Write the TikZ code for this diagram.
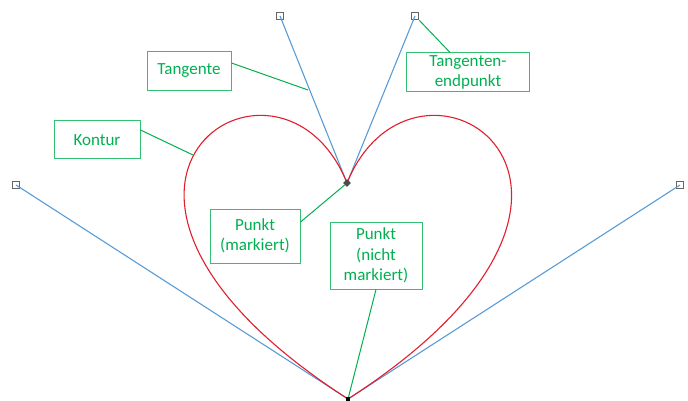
\documentclass[tikz,border=0pt]{standalone}
\usepackage{fontspec}
\setmainfont{Carlito}
\usetikzlibrary{calc}
\usetikzlibrary{shapes.geometric}

\definecolor{labelgreen}{RGB}{0,176,80}
\definecolor{tanblue}{RGB}{91,155,213}
\definecolor{curvered}{RGB}{225,30,45}

\tikzset{
    label box/.style={draw=labelgreen!80, line width=1pt, text=labelgreen, align=center,
        font=\fontsize{17}{20.5}\selectfont, inner sep=0pt},
    pointer/.style={labelgreen, line width=1pt},
    tangent/.style={tanblue, line width=1.1pt},
    handle/.style={draw=black!60, fill=white, line width=1pt, minimum size=7.5pt, inner sep=0pt}
}

\begin{document}
\begin{tikzpicture}[x=1pt,y=-1pt]
            \useasboundingbox (0,0) rectangle (688,401);
            % Punkte und Tangentenendpunkte
            \coordinate (P) at (347,183);
            \coordinate (Q) at (348,399);
            \node[handle] (TL) at (280,16) {};
            \node[handle] (TR) at (415,16) {};
            \node[handle] (FL) at (16,185) {};
            \node[handle] (FR) at (680,185) {};
            % Tangenten
            \draw[tangent] (P) -- (TL.center);
            \draw[tangent] (P) -- (TR.center);
            \draw[tangent] (Q) -- (FL.center);
            \draw[tangent] (Q) -- (FR.center);
            % Kontur
            \draw[curvered, line width=1.1pt] (P) .. controls (TL.center) and (FL.center) .. (Q);
            \draw[curvered, line width=1.1pt] (P) .. controls (TR.center) and (FR.center) .. (Q);
            \node[fill=black!70, diamond, minimum size=8pt, inner sep=0pt] (PM) at (P) {};
            \node[fill=black, minimum size=4pt, inner sep=0pt] (QM) at (Q) {};
            % Beschriftungen
            \node[label box, minimum width=84pt, minimum height=39pt] (tangente) at (189,71) {Tangente};
            \node[label box, minimum width=123pt, minimum height=39pt] (endpunkt) at (468,72.5) {Tangenten-\\endpunkt};
            \node[label box, minimum width=86pt, minimum height=38pt] (kontur) at (97,140) {Kontur};
            \node[label box, minimum width=90pt, minimum height=54pt] (markiert) at (255,236) {Punkt\\(markiert)};
            \node[label box, minimum width=92pt, minimum height=67pt] (nichtmarkiert) at (376,255.5) {Punkt\\(nicht\\markiert)};
            \coordinate (tangentpoint) at (308,90);
            \coordinate (konturpoint) at (193,155);
            \draw[pointer] (tangente.east |- 0,63) -- (tangentpoint);
            \draw[pointer] (endpunkt.north -| 450,0) -- (TR.south east);
            \draw[pointer] (kontur.east |- 0,130) -- (konturpoint);
            \draw[pointer] (markiert.east |- 0,222) -- (PM);
            \draw[pointer] (nichtmarkiert.south) -- (QM);
        \end{tikzpicture}
\end{document}
